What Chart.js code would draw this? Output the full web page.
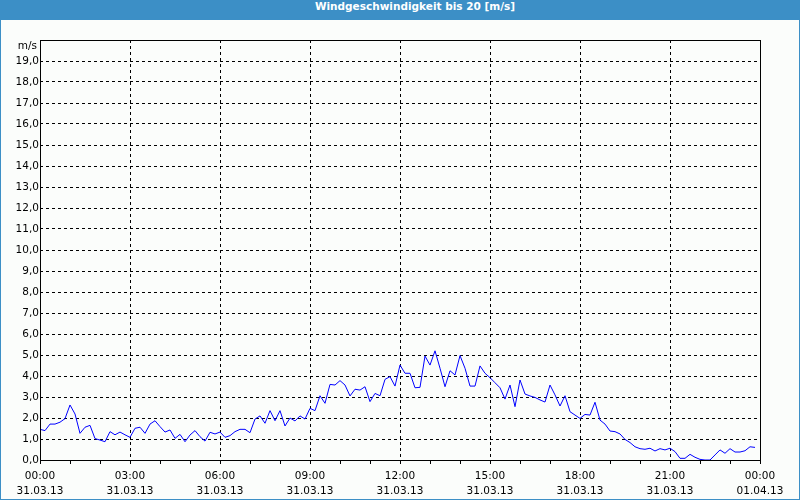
<!DOCTYPE html>
<html>
<head>
<meta charset="utf-8">
<script src="https://cdn.jsdelivr.net/npm/chart.js@4"></script>
<style>
  html, body { margin: 0; padding: 0; background: #fbfdfb; }
  #rahmen { position: relative; width: 798px; height: 499px; border: 1px solid #3c8fc6; border-top: none; background: #fbfdfb; }
  #titel { height: 20px; line-height: 20px; background: #3c8fc6; color: #fff; text-align: center;
           padding-left: 30px; font: bold 10.5px "DejaVu Sans", sans-serif; }
  #box { width: 798px; height: 479px; }
</style>
</head>
<body>
<div id="rahmen">
  <div id="titel">Windgeschwindigkeit bis 20 [m/s]</div>
  <div id="box"><canvas id="grafico"></canvas></div>
</div>
<script>
// Windgeschwindigkeit in m/s, alle 10 Minuten ab 31.03.13 00:00
const werte = [
  1.46, 1.40, 1.71, 1.71, 1.80, 1.97, 2.62, 2.19, 1.27, 1.56, 1.65, 1.02,
  0.95, 0.87, 1.35, 1.20, 1.33, 1.20, 1.08, 1.51, 1.56, 1.27, 1.71, 1.87,
  1.59, 1.33, 1.43, 1.03, 1.22, 0.87, 1.19, 1.40, 1.11, 0.90, 1.32, 1.24,
  1.33, 1.08, 1.16, 1.35, 1.46, 1.46, 1.30, 1.95, 2.10, 1.75, 2.35, 1.87,
  2.35, 1.62, 2.00, 1.86, 2.10, 1.95, 2.46, 2.35, 3.06, 2.70, 3.60, 3.57,
  3.78, 3.57, 3.05, 3.37, 3.33, 3.49, 2.78, 3.17, 3.06, 3.84, 3.97, 3.52,
  4.52, 4.13, 4.13, 3.44, 3.46, 4.95, 4.52, 5.20, 4.37, 3.49, 4.25, 4.05,
  4.97, 4.37, 3.52, 3.52, 4.48, 4.13, 3.92, 3.68, 3.44, 2.90, 3.57, 2.54,
  3.81, 3.14, 3.05, 2.98, 2.86, 2.76, 3.57, 3.10, 2.57, 3.06, 2.30, 2.14,
  1.98, 2.17, 2.14, 2.75, 1.90, 1.71, 1.38, 1.35, 1.24, 0.98, 0.83, 0.63,
  0.54, 0.51, 0.56, 0.43, 0.54, 0.48, 0.56, 0.40, 0.08, 0.08, 0.27, 0.13,
  0.03, 0.00, 0.00, 0.24, 0.48, 0.32, 0.54, 0.38, 0.38, 0.44, 0.63, 0.60
];
const zeiten = ['00:00', '03:00', '06:00', '09:00', '12:00', '15:00', '18:00', '21:00', '00:00'];
const daten = ['31.03.13', '31.03.13', '31.03.13', '31.03.13', '31.03.13', '31.03.13', '31.03.13', '31.03.13', '01.04.13'];
const einheit = 'm/s';

const punkte = werte.map((v, i) => ({ x: i * 10, y: v }));

const schrift = { family: '"DejaVu Sans", sans-serif', size: 10.5 };

// schwarzer Rahmen, Stundenstriche unter der x-Achse, Einheit oben links
const rahmenPlugin = {
  id: 'rahmen',
  afterDraw(chart) {
    const { ctx, chartArea: a } = chart;
    const xs = chart.scales.x;
    ctx.save();
    ctx.strokeStyle = '#000';
    ctx.lineWidth = 1;
    ctx.strokeRect(Math.round(a.left) + 0.5, Math.round(a.top) + 0.5, Math.round(a.right - a.left), Math.round(a.bottom - a.top));
    ctx.beginPath();
    xs.ticks.forEach(t => {
      const px = Math.round(xs.getPixelForValue(t.value)) + 0.5;
      ctx.moveTo(px, Math.round(a.bottom));
      ctx.lineTo(px, Math.round(a.bottom) + 4);
    });
    ctx.stroke();
    ctx.fillStyle = '#000';
    ctx.font = '10.5px "DejaVu Sans", sans-serif';
    ctx.textAlign = 'right';
    ctx.textBaseline = 'middle';
    ctx.fillText(einheit, a.left - 3, a.top + 6);
    ctx.restore();
  }
};

const ctx = document.getElementById('grafico').getContext('2d');
const grafico = new Chart(ctx, {
  type: 'line',
  data: {
    datasets: [{
      data: punkte,
      borderColor: '#0000ff',
      borderWidth: 1,
      pointRadius: 0,
      tension: 0,
      fill: false
    }]
  },
  options: {
    responsive: true,
    maintainAspectRatio: false,
    animation: false,
    layout: { padding: { top: 20, right: 39, bottom: 0, left: 0 } },
    plugins: { legend: { display: false }, tooltip: { enabled: false } },
    scales: {
      x: {
        type: 'linear',
        min: 0,
        max: 1440,
        afterFit(scale) { scale.height = 39; },
        border: { display: false, dash: [3, 3] },
        grid: {
          color: c => (c.tick.value % 180 === 0 ? '#000' : 'rgba(0,0,0,0)'),
          tickColor: 'rgba(0,0,0,0)',
          tickLength: 4,
          lineWidth: 1
        },
        ticks: {
          stepSize: 60,
          autoSkip: false,
          maxRotation: 0,
          padding: 4,
          color: '#000',
          font: { family: '"DejaVu Sans", sans-serif', size: 10.5, lineHeight: 1.5 },
          callback: v => (v % 180 === 0 ? [zeiten[v / 180], daten[v / 180]] : '')
        }
      },
      y: {
        min: 0,
        max: 20,
        afterFit(scale) { scale.width = 39; },
        border: { display: false, dash: [3, 3] },
        grid: {
          color: c => (c.tick.value === 0 || c.tick.value === 20 ? 'rgba(0,0,0,0)' : '#000'),
          drawTicks: false,
          lineWidth: 1
        },
        ticks: {
          stepSize: 1,
          autoSkip: false,
          padding: 1,
          color: '#000',
          font: schrift,
          callback: v => (v === 20 ? '' : v.toFixed(1).replace('.', ','))
        }
      }
    }
  },
  plugins: [rahmenPlugin]
});
</script>
</body>
</html>
